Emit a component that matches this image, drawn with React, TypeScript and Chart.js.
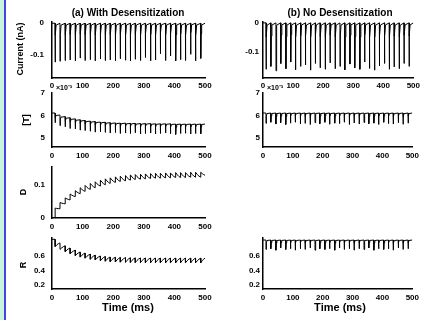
import React, { useEffect, useRef } from 'react';
import { Chart, registerables } from 'chart.js';

Chart.register(...registerables);

// ---------------- data ----------------
const pulseTimes = [10, 26, 43, 59, 76, 92, 108, 125, 141, 158, 174, 190, 207, 223, 240, 256, 272, 289, 305, 322, 338, 354, 371, 387, 404, 420, 436, 453, 469, 486];
const timeTicks = [0, 100, 200, 300, 400, 500];

// Current (nA): resting level and peak of each synaptic current
const currentRest = 0;
const currentPeakWith = [-0.125, -0.122, -0.12, -0.118, -0.121, -0.112, -0.12, -0.117, -0.121, -0.115, -0.12, -0.118, -0.121, -0.114, -0.119, -0.121, -0.116, -0.12, -0.11, -0.121, -0.118, -0.098, -0.12, -0.105, -0.121, -0.117, -0.12, -0.1, -0.121, -0.113];
const currentPeakNo = [-0.16, -0.15, -0.165, -0.14, -0.158, -0.135, -0.162, -0.15, -0.145, -0.163, -0.14, -0.155, -0.16, -0.138, -0.158, -0.15, -0.162, -0.142, -0.155, -0.16, -0.135, -0.157, -0.163, -0.148, -0.14, -0.16, -0.152, -0.158, -0.14, -0.15];
const currentTicks = [-0.1, 0];

// [T] (x10^-3): level before each pulse and right after it
const tBeforeWith = [6.11, 6.02, 5.95, 5.9, 5.85, 5.81, 5.78, 5.75, 5.73, 5.71, 5.7, 5.68, 5.67, 5.66, 5.66, 5.65, 5.65, 5.64, 5.64, 5.64, 5.63, 5.63, 5.63, 5.63, 5.62, 5.62, 5.62, 5.62, 5.62, 5.62];
const tAfterWith = [5.68, 5.55, 5.5, 5.42, 5.4, 5.35, 5.33, 5.3, 5.26, 5.28, 5.25, 5.22, 5.24, 5.2, 5.22, 5.2, 5.23, 5.18, 5.2, 5.22, 5.18, 5.2, 5.22, 5.19, 5.16, 5.2, 5.21, 5.18, 5.2, 5.19];
const tBeforeNo = [6.11, 6.11, 6.11, 6.11, 6.11, 6.11, 6.11, 6.11, 6.11, 6.11, 6.11, 6.11, 6.11, 6.11, 6.11, 6.11, 6.11, 6.11, 6.11, 6.11, 6.11, 6.11, 6.11, 6.11, 6.11, 6.11, 6.11, 6.11, 6.11, 6.11];
const tAfterNo = [5.65, 5.7, 5.62, 5.68, 5.6, 5.66, 5.7, 5.62, 5.65, 5.6, 5.68, 5.63, 5.7, 5.61, 5.66, 5.64, 5.7, 5.6, 5.67, 5.62, 5.69, 5.63, 5.66, 5.6, 5.7, 5.64, 5.62, 5.68, 5.61, 5.66];
const tTicks = [5, 6, 7];

// D (desensitized fraction)
const dBefore = [0, 0.028, 0.043, 0.055, 0.065, 0.074, 0.081, 0.087, 0.092, 0.097, 0.101, 0.105, 0.108, 0.111, 0.113, 0.115, 0.117, 0.118, 0.119, 0.12, 0.121, 0.121, 0.122, 0.122, 0.123, 0.123, 0.123, 0.124, 0.124, 0.124];
const dAfter = [0.03, 0.047, 0.061, 0.073, 0.083, 0.092, 0.099, 0.105, 0.11, 0.115, 0.119, 0.122, 0.125, 0.127, 0.129, 0.131, 0.132, 0.133, 0.134, 0.135, 0.136, 0.136, 0.137, 0.137, 0.138, 0.138, 0.138, 0.139, 0.139, 0.139];
const dEnd = 0.13;
const dTicks = [0, 0.1];

// R (available fraction)
const rBeforeWith = [0.83, 0.78, 0.74, 0.71, 0.68, 0.655, 0.64, 0.625, 0.612, 0.6, 0.592, 0.586, 0.582, 0.579, 0.577, 0.575, 0.574, 0.573, 0.573, 0.572, 0.572, 0.572, 0.571, 0.571, 0.571, 0.571, 0.571, 0.57, 0.57, 0.57];
const rAfterWith = [0.73, 0.69, 0.66, 0.63, 0.605, 0.585, 0.57, 0.555, 0.545, 0.535, 0.528, 0.522, 0.518, 0.515, 0.513, 0.511, 0.51, 0.509, 0.509, 0.508, 0.508, 0.508, 0.507, 0.507, 0.507, 0.507, 0.507, 0.506, 0.506, 0.506];
const rBeforeNo = [0.82, 0.82, 0.82, 0.82, 0.82, 0.82, 0.82, 0.82, 0.82, 0.82, 0.82, 0.82, 0.82, 0.82, 0.82, 0.82, 0.82, 0.82, 0.82, 0.82, 0.82, 0.82, 0.82, 0.82, 0.82, 0.82, 0.82, 0.82, 0.82, 0.82];
const rAfterNo = [0.69, 0.7, 0.68, 0.71, 0.69, 0.7, 0.68, 0.7, 0.69, 0.71, 0.68, 0.7, 0.69, 0.7, 0.68, 0.71, 0.69, 0.7, 0.68, 0.7, 0.69, 0.71, 0.68, 0.7, 0.69, 0.7, 0.68, 0.71, 0.69, 0.7];
const rTicks = [0.2, 0.4, 0.6];

// recovery shapes between pulses: [fraction of interval, fraction recovered]
const fastShape = [[0.06, 0.7], [0.2, 0.95], [1, 1]];
const slowShape = [[0.33, 0.45], [0.66, 0.78], [1, 1]];

type Pt = { x: number; y: number };

function buildTrace(before: number[], after: number[], shape: number[][], endValue: number): Pt[] {
  const n = pulseTimes.length;
  const pts: Pt[] = [{ x: 0, y: before[0] }];
  for (let i = 0; i < n; i++) {
    const t = pulseTimes[i];
    const next = i + 1 < n ? pulseTimes[i + 1] : 500;
    const target = i + 1 < n ? before[i + 1] : endValue;
    pts.push({ x: t, y: before[i] });
    pts.push({ x: t + 0.3, y: after[i] });
    for (const [f, frac] of shape) {
      pts.push({ x: t + 0.3 + f * (next - t - 0.3), y: after[i] + (target - after[i]) * frac });
    }
  }
  return pts;
}

const restArr = (len: number) => pulseTimes.slice(0, len).map(() => currentRest);

type Txt = { text: string; x: number; y: number; rot?: number; size?: number; align?: CanvasTextAlign };

type Panel = {
  left: number; right: number; top: number; bottom: number;
  yMin: number; yMax: number; yTicks: number[]; yPad: number; xPad: number;
  data: Pt[]; texts: Txt[];
};

const W = 423;
const H = 320;
const FONT = '"Liberation Sans", Arial, sans-serif';
const rot = -Math.PI / 2;

const panels: Panel[] = [
  {
    left: 52, right: 205, top: 22, bottom: 78, yMin: -0.176, yMax: 0.004, yTicks: currentTicks, yPad: 8, xPad: 3,
    data: buildTrace(restArr(30), currentPeakWith, fastShape, currentRest),
    texts: [
      { text: '(a) With Desensitization', x: 128, y: 13, size: 10 },
      { text: 'Current (nA)', x: 21, y: 49, rot, size: 9 },
    ],
  },
  {
    left: 263, right: 415, top: 22, bottom: 78, yMin: -0.19, yMax: 0.003, yTicks: currentTicks, yPad: 4, xPad: 3,
    data: buildTrace(restArr(30), currentPeakNo, fastShape, currentRest),
    texts: [{ text: '(b) No Desensitization', x: 340, y: 13, size: 10 }],
  },
  {
    left: 52, right: 205, top: 93, bottom: 147, yMin: 4.6, yMax: 7, yTicks: tTicks, yPad: 7, xPad: 4,
    data: buildTrace(tBeforeWith, tAfterWith, fastShape, 5.62),
    texts: [
      { text: '×10⁻³', x: 56, y: 88, size: 7, align: 'left' },
      { text: '[T]', x: 27, y: 120, rot, size: 9 },
    ],
  },
  {
    left: 263, right: 415, top: 93, bottom: 147, yMin: 4.6, yMax: 7, yTicks: tTicks, yPad: 3, xPad: 4,
    data: buildTrace(tBeforeNo, tAfterNo, fastShape, 6.11),
    texts: [{ text: '×10⁻³', x: 267, y: 88, size: 7, align: 'left' }],
  },
  {
    left: 52, right: 205, top: 167, bottom: 218, yMin: 0, yMax: 0.155, yTicks: dTicks, yPad: 7, xPad: 4,
    data: buildTrace(dBefore, dAfter, slowShape, dEnd),
    texts: [{ text: 'D', x: 24, y: 192, rot, size: 9 }],
  },
  {
    left: 52, right: 205, top: 238, bottom: 289, yMin: 0.145, yMax: 0.848, yTicks: rTicks, yPad: 7, xPad: 4,
    data: buildTrace(rBeforeWith, rAfterWith, slowShape, 0.57),
    texts: [
      { text: 'R', x: 24, y: 265, rot, size: 9 },
      { text: 'Time (ms)', x: 128, y: 308, size: 11 },
    ],
  },
  {
    left: 263, right: 415, top: 238, bottom: 289, yMin: 0.145, yMax: 0.848, yTicks: rTicks, yPad: 3, xPad: 4,
    data: buildTrace(rBeforeNo, rAfterNo, fastShape, 0.82),
    texts: [{ text: 'Time (ms)', x: 340, y: 308, size: 11 }],
  },
];

const Y_W = 40;
const X_H = 20;

function makeTextPlugin(items: Txt[]) {
  return {
    id: 'pageText',
    afterDraw(chart: any) {
      const ctx = chart.ctx as CanvasRenderingContext2D;
      items.forEach((it) => {
        ctx.save();
        ctx.fillStyle = '#000';
        ctx.font = `bold ${it.size ?? 9}px ${FONT}`;
        ctx.textAlign = it.align ?? 'center';
        ctx.textBaseline = 'middle';
        ctx.translate(it.x, it.y);
        if (it.rot) ctx.rotate(it.rot);
        ctx.fillText(it.text, 0, 0);
        ctx.restore();
      });
    },
  };
}

function PanelChart({ p }: { p: Panel }) {
  const ref = useRef<HTMLCanvasElement | null>(null);
  useEffect(() => {
    if (!ref.current) return;
    const chart = new Chart(ref.current, {
      type: 'line',
      data: {
        datasets: [
          {
            data: p.data as any,
            borderColor: '#000',
            borderWidth: 1,
            pointRadius: 0,
            tension: 0,
            fill: false,
          },
        ],
      },
      options: {
        animation: false,
        responsive: false,
        devicePixelRatio: 1,
        events: [],
        parsing: false as any,
        layout: {
          padding: {
            left: p.left - Y_W,
            right: W - p.right,
            top: p.top,
            bottom: H - p.bottom - X_H,
          },
        },
        plugins: { legend: { display: false }, tooltip: { enabled: false }, title: { display: false } },
        scales: {
          x: {
            type: 'linear',
            min: 0,
            max: 500,
            afterBuildTicks: (s: any) => {
              s.ticks = timeTicks.map((v) => ({ value: v }));
            },
            afterFit: (s: any) => {
              s.height = X_H;
            },
            grid: { display: false, drawTicks: false },
            border: { display: true, color: '#000', width: 1.5 },
            ticks: {
              color: '#000',
              padding: p.xPad,
              maxRotation: 0,
              autoSkip: false,
              font: { family: FONT, size: 8, weight: 'bold' },
              callback: (v: any) => String(v),
            },
          },
          y: {
            type: 'linear',
            min: p.yMin,
            max: p.yMax,
            afterBuildTicks: (s: any) => {
              s.ticks = p.yTicks.map((v) => ({ value: v }));
            },
            afterFit: (s: any) => {
              s.width = Y_W;
            },
            grid: { display: false, drawTicks: false },
            border: { display: true, color: '#000', width: 1.5 },
            ticks: {
              color: '#000',
              padding: p.yPad,
              autoSkip: false,
              font: { family: FONT, size: 8, weight: 'bold' },
              callback: (v: any) => String(v),
            },
          },
        },
      },
      plugins: [makeTextPlugin(p.texts)],
    } as any);
    return () => chart.destroy();
  }, [p]);
  return (
    <canvas
      ref={ref}
      width={W}
      height={H}
      style={{ position: 'absolute', left: 0, top: 0, width: W, height: H }}
    />
  );
}

export default function App() {
  return (
    <div
      style={{
        position: 'fixed',
        left: 0,
        top: 0,
        width: W,
        height: H,
        background: '#ffffff',
        overflow: 'hidden',
      }}
    >
      <div style={{ position: 'absolute', left: 0, top: 0, width: 4, height: H, background: '#c8f3dc' }} />
      <div style={{ position: 'absolute', left: 4, top: 0, width: 2, height: H, background: '#4545dd' }} />
      {panels.map((p, i) => (
        <PanelChart key={i} p={p} />
      ))}
    </div>
  );
}
